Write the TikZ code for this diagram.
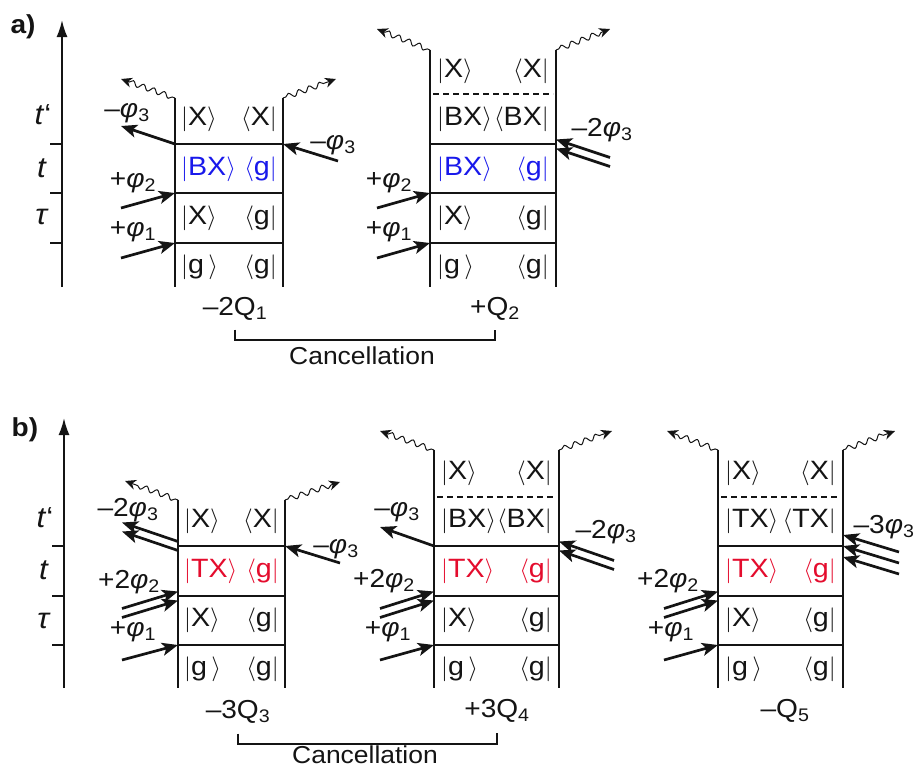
\documentclass[tikz,border=0pt]{standalone}
\usepackage{fontspec}
\setmainfont[FakeStretch=1.08]{Liberation Sans}
\usetikzlibrary{arrows.meta,calc,decorations.pathmorphing}
\definecolor{diagink}{RGB}{20,20,20}
\definecolor{diagblue}{RGB}{25,25,235}
\definecolor{diagred}{RGB}{228,12,45}
\newcommand{\kt}[1]{$|$#1$\rangle$}
\newcommand{\br}[1]{$\langle$#1$|$}
\newcommand{\ph}[1]{\textit{φ}\textsubscript{#1}}
\tikzset{
  diag wall/.style={line width=1.6pt, draw=diagink},
  diag dash/.style={line width=1.3pt, draw=diagink, dash pattern=on 6pt off 4pt},
  time axis/.style={-{Latex[length=17pt,width=11pt]}, line width=2pt, draw=diagink},
  pulse arrow/.style={-{Stealth[length=16pt,width=13pt,inset=4pt]}, line width=2.7pt, draw=diagink},
  emit arrow/.style={-{Stealth[length=11pt,width=10pt,inset=3.5pt]}, line width=1pt, draw=diagink,
    decorate, decoration={snake, amplitude=2.6pt, segment length=11pt, pre length=3pt, post length=8pt}},
  ket/.style={anchor=west, inner sep=0pt, text=diagink, font=\fontsize{26.5}{26.5}\selectfont},
  bra/.style={anchor=east, inner sep=0pt, text=diagink, font=\fontsize{26.5}{26.5}\selectfont},
  field label/.style={inner sep=0pt, text=diagink, font=\fontsize{26}{26}\selectfont},
  time label/.style={inner sep=0pt, text=diagink, font=\fontsize{29}{29}\selectfont},
  panel label/.style={inner sep=0pt, text=diagink, font=\fontsize{26}{26}\selectfont\bfseries},
  sum label/.style={inner sep=0pt, text=diagink, font=\fontsize{26}{26}\selectfont},
  cancel label/.style={inner sep=0pt, text=diagink, font=\fontsize{24.5}{24.5}\selectfont},
}

\begin{document}
\begin{tikzpicture}[x=1pt,y=-1pt]
  \useasboundingbox (0,0) rectangle (917,771);

  % ---------- panel a ----------
  \node[panel label] (pa) at (23,27) {a)};
  \coordinate (ta0) at (62,287);
  \coordinate (ta1) at (62,20);
  \draw[time axis] (ta0) -- (ta1);
  \foreach \y in {144,193,243} \draw[diag wall] (50,\y) -- (62,\y);
  \node[time label] (tap) at (43,115) {\textit{t}‘};
  \node[time label] (tat) at (42,168) {\textit{t}};
  \node[time label] (tau) at (42,217) {\textit{τ}};

  % diagram -2Q1
  \coordinate (qaLt) at (175,98);  \coordinate (qaLb) at (175,287);
  \coordinate (qaRt) at (283,98);  \coordinate (qaRb) at (283,287);
  \coordinate (qaL1) at (175,243); \coordinate (qaL2) at (175,193);
  \coordinate (qaL3) at (175,144); \coordinate (qaR3) at (283,144);
  \coordinate (qaP1) at (121,258); \coordinate (qaP2) at (121,208);
  \coordinate (qaP3) at (121,126); \coordinate (qaQ3) at (338,161);
  \coordinate (qaEl) at (121,79);  \coordinate (qaEr) at (336,79);
  \draw[diag wall] (qaLt) -- (qaLb);
  \draw[diag wall] (qaRt) -- (qaRb);
  \foreach \y in {144,193,243} \draw[diag wall] (175,\y) -- (283,\y);
  \node[ket] at (181,119) {\kt{X}};  \node[bra] at (277,119) {\br{X}};
  \node[ket, text=diagblue] at (181,169) {\kt{BX}}; \node[bra, text=diagblue] at (277,169) {\br{g}};
  \node[ket] at (181,218) {\kt{X}};  \node[bra] at (277,218) {\br{g}};
  \node[ket] at (181,267) {\kt{g\,}}; \node[bra] at (277,267) {\br{g}};
  \draw[emit arrow] (qaLt) -- (qaEl);
  \draw[emit arrow] (qaRt) -- (qaEr);
  \draw[pulse arrow] (qaP1) -- (qaL1);
  \draw[pulse arrow] (qaP2) -- (qaL2);
  \draw[pulse arrow] (qaL3) -- (qaP3);
  \draw[pulse arrow] (qaQ3) -- (qaR3);
  \node[field label] (qaf1) at (133,232) {+\ph{1}};
  \node[field label] (qaf2) at (133,183) {+\ph{2}};
  \node[field label] (qaf3) at (127,113) {–\ph{3}};
  \node[field label] (qag3) at (333,145) {–\ph{3}};
  \node[sum label] (qa) at (235,309) {–2Q\textsubscript{1}};

  % diagram +Q2
  \coordinate (qbLt) at (430,50);  \coordinate (qbLb) at (430,287);
  \coordinate (qbRt) at (556,50);  \coordinate (qbRb) at (556,287);
  \coordinate (qbL1) at (430,243); \coordinate (qbL2) at (430,193);
  \coordinate (qbR3) at (556,144);
  \coordinate (qbP1) at (377,258); \coordinate (qbP2) at (377,208);
  \coordinate (qbQ3) at (610,162);
  \coordinate (qbEl) at (377,29);  \coordinate (qbEr) at (610,29);
  \draw[diag wall] (qbLt) -- (qbLb);
  \draw[diag wall] (qbRt) -- (qbRb);
  \draw[diag dash] (433,94) -- (553,94);
  \foreach \y in {144,193,243} \draw[diag wall] (430,\y) -- (556,\y);
  \node[ket] at (437,71) {\kt{X}};   \node[bra] at (549,71) {\br{X}};
  \node[ket] at (437,119) {\kt{BX}}; \node[bra] at (549,119) {\br{BX}};
  \node[ket, text=diagblue] at (437,169) {\kt{BX}}; \node[bra, text=diagblue] at (549,169) {\br{g}};
  \node[ket] at (437,218) {\kt{X}};  \node[bra] at (549,218) {\br{g}};
  \node[ket] at (437,267) {\kt{g\,}}; \node[bra] at (549,267) {\br{g}};
  \draw[emit arrow] (qbLt) -- (qbEl);
  \draw[emit arrow] (qbRt) -- (qbEr);
  \draw[pulse arrow] (qbP1) -- (qbL1);
  \draw[pulse arrow] (qbP2) -- (qbL2);
  \foreach \s in {-4.5,4.5}
    \draw[pulse arrow] ($(qbQ3)+(0,\s)$) -- ($(qbR3)+(0,\s)$);
  \node[field label] (qbf1) at (389,232) {+\ph{1}};
  \node[field label] (qbf2) at (389,183) {+\ph{2}};
  \node[field label] (qbg3) at (602,130) {–2\ph{3}};
  \node[sum label] (qb) at (495,309) {+Q\textsubscript{2}};

  \draw[diag wall] ([yshift=-9pt]qa.south) -- ++(0,10) -| ([yshift=-9pt]qb.south);
  \node[cancel label] (canca) at (362,356) {Cancellation};

  % ---------- panel b ----------
  \node[panel label] (pb) at (25,430) {b)};
  \coordinate (tb0) at (64,688);
  \coordinate (tb1) at (64,418);
  \draw[time axis] (tb0) -- (tb1);
  \foreach \y in {546,596,645} \draw[diag wall] (52,\y) -- (64,\y);
  \node[time label] (tbp) at (45,518) {\textit{t}‘};
  \node[time label] (tbt) at (44,570) {\textit{t}};
  \node[time label] (tbu) at (44,621) {\textit{τ}};

  % diagram -3Q3
  \coordinate (qcLt) at (178,500); \coordinate (qcLb) at (178,688);
  \coordinate (qcRt) at (285,500); \coordinate (qcRb) at (285,688);
  \coordinate (qcL1) at (178,645); \coordinate (qcL2) at (178,596);
  \coordinate (qcL3) at (178,546); \coordinate (qcR3) at (285,546);
  \coordinate (qcP1) at (122,660); \coordinate (qcP2) at (122,613);
  \coordinate (qcP3) at (122,527); \coordinate (qcQ3) at (340,563);
  \coordinate (qcEl) at (125,481); \coordinate (qcEr) at (340,482);
  \draw[diag wall] (qcLt) -- (qcLb);
  \draw[diag wall] (qcRt) -- (qcRb);
  \foreach \y in {546,596,645} \draw[diag wall] (178,\y) -- (285,\y);
  \node[ket] at (184,521) {\kt{X}};  \node[bra] at (279,521) {\br{X}};
  \node[ket, text=diagred] at (184,571) {\kt{TX}}; \node[bra, text=diagred] at (279,571) {\br{g}};
  \node[ket] at (184,620) {\kt{X}};  \node[bra] at (279,620) {\br{g}};
  \node[ket] at (184,669) {\kt{g\,}}; \node[bra] at (279,669) {\br{g}};
  \draw[emit arrow] (qcLt) -- (qcEl);
  \draw[emit arrow] (qcRt) -- (qcEr);
  \draw[pulse arrow] (qcP1) -- (qcL1);
  \foreach \s in {-4.5,4.5}
    \draw[pulse arrow] ($(qcP2)+(0,\s)$) -- ($(qcL2)+(0,\s)$);
  \foreach \s in {-4.5,4.5}
    \draw[pulse arrow] ($(qcL3)+(0,\s)$) -- ($(qcP3)+(0,\s)$);
  \draw[pulse arrow] (qcQ3) -- (qcR3);
  \node[field label] (qcf1) at (133,632) {+\ph{1}};
  \node[field label] (qcf2) at (129,582) {+2\ph{2}};
  \node[field label] (qcf3) at (128,510) {–2\ph{3}};
  \node[field label] (qcg3) at (336,549) {–\ph{3}};
  \node[sum label] (qc) at (238,712) {–3Q\textsubscript{3}};

  % diagram +3Q4
  \coordinate (qdLt) at (434,450); \coordinate (qdLb) at (434,688);
  \coordinate (qdRt) at (559,450); \coordinate (qdRb) at (559,688);
  \coordinate (qdL1) at (434,645); \coordinate (qdL2) at (434,596);
  \coordinate (qdL3) at (434,546); \coordinate (qdR3) at (559,546);
  \coordinate (qdP1) at (380,660); \coordinate (qdP2) at (380,613);
  \coordinate (qdP3) at (380,527); \coordinate (qdQ3) at (614,565);
  \coordinate (qdEl) at (380,431); \coordinate (qdEr) at (612,431);
  \draw[diag wall] (qdLt) -- (qdLb);
  \draw[diag wall] (qdRt) -- (qdRb);
  \draw[diag dash] (437,497) -- (556,497);
  \foreach \y in {546,596,645} \draw[diag wall] (434,\y) -- (559,\y);
  \node[ket] at (441,473) {\kt{X}};   \node[bra] at (552,473) {\br{X}};
  \node[ket] at (441,521) {\kt{BX}};  \node[bra] at (552,521) {\br{BX}};
  \node[ket, text=diagred] at (441,571) {\kt{TX}}; \node[bra, text=diagred] at (552,571) {\br{g}};
  \node[ket] at (441,620) {\kt{X}};   \node[bra] at (552,620) {\br{g}};
  \node[ket] at (441,669) {\kt{g\,}}; \node[bra] at (552,669) {\br{g}};
  \draw[emit arrow] (qdLt) -- (qdEl);
  \draw[emit arrow] (qdRt) -- (qdEr);
  \draw[pulse arrow] (qdP1) -- (qdL1);
  \foreach \s in {-4.5,4.5}
    \draw[pulse arrow] ($(qdP2)+(0,\s)$) -- ($(qdL2)+(0,\s)$);
  \draw[pulse arrow] (qdL3) -- (qdP3);
  \foreach \s in {-4.5,4.5}
    \draw[pulse arrow] ($(qdQ3)+(0,\s)$) -- ($(qdR3)+(0,\s)$);
  \node[field label] (qdf1) at (388,632) {+\ph{1}};
  \node[field label] (qdf2) at (384,581) {+2\ph{2}};
  \node[field label] (qdf3) at (397,512) {–\ph{3}};
  \node[field label] (qdg3) at (606,532) {–2\ph{3}};
  \node[sum label] (qd) at (497,711) {+3Q\textsubscript{4}};

  \draw[diag wall] ([yshift=-10pt]qc.south) -- ++(0,10) -| ([yshift=-10pt]qd.south);
  \node[cancel label] (cancb) at (365,755) {Cancellation};

  % diagram -Q5
  \coordinate (qeLt) at (718,450); \coordinate (qeLb) at (718,688);
  \coordinate (qeRt) at (843,450); \coordinate (qeRb) at (843,688);
  \coordinate (qeL1) at (718,645); \coordinate (qeL2) at (718,596);
  \coordinate (qeR3) at (843,546);
  \coordinate (qeP1) at (664,660); \coordinate (qeP2) at (664,613);
  \coordinate (qeQ3) at (899,563);
  \coordinate (qeEl) at (667,431); \coordinate (qeEr) at (895,431);
  \draw[diag wall] (qeLt) -- (qeLb);
  \draw[diag wall] (qeRt) -- (qeRb);
  \draw[diag dash] (721,497) -- (840,497);
  \foreach \y in {546,596,645} \draw[diag wall] (718,\y) -- (843,\y);
  \node[ket] at (725,473) {\kt{X}};   \node[bra] at (836,473) {\br{X}};
  \node[ket] at (725,521) {\kt{TX}};  \node[bra] at (836,521) {\br{TX}};
  \node[ket, text=diagred] at (725,571) {\kt{TX}}; \node[bra, text=diagred] at (836,571) {\br{g}};
  \node[ket] at (725,620) {\kt{X}};   \node[bra] at (836,620) {\br{g}};
  \node[ket] at (725,669) {\kt{g\,}}; \node[bra] at (836,669) {\br{g}};
  \draw[emit arrow] (qeLt) -- (qeEl);
  \draw[emit arrow] (qeRt) -- (qeEr);
  \draw[pulse arrow] (qeP1) -- (qeL1);
  \foreach \s in {-4.5,4.5}
    \draw[pulse arrow] ($(qeP2)+(0,\s)$) -- ($(qeL2)+(0,\s)$);
  \foreach \s in {-11,0,11}
    \draw[pulse arrow] ($(qeQ3)+(0,\s)$) -- ($(qeR3)+(0,\s)$);
  \node[field label] (qef1) at (671,632) {+\ph{1}};
  \node[field label] (qef2) at (668,581) {+2\ph{2}};
  \node[field label] (qeg3) at (884,527) {–3\ph{3}};
  \node[sum label] (qe) at (785,711) {–Q\textsubscript{5}};
\end{tikzpicture}
\end{document}
